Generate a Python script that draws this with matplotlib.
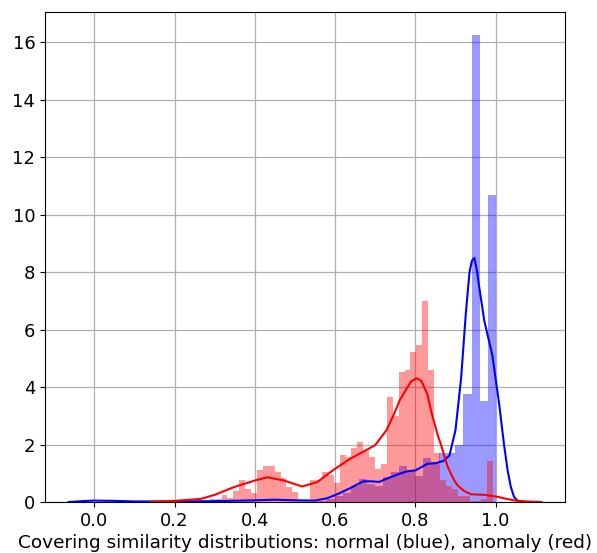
import numpy as np
import matplotlib
matplotlib.use("Agg")
import matplotlib.pyplot as plt

# histogram bins (density)
blue_start, blue_width = 0.0, 0.02
blue_heights = [0.0] * 28 + [
    0.05, 0.10, 0.20, 0.33, 0.57, 0.81, 0.63, 0.57, 0.86, 1.05,
    1.27, 1.10, 0.90, 1.52, 1.38, 1.70, 1.70, 1.97, 3.77, 16.25,
    3.50, 10.70,
]

red_start, red_width = 0.258, 0.01472
red_heights = [
    0.05, 0.05, 0.10, 0.10, 0.25, 0.15, 0.40, 0.75, 0.46, 0.30,
    1.12, 1.24, 1.24, 1.04, 0.84, 0.52, 0.34, 0.05, 0.05, 0.75,
    0.75, 1.04, 0.95, 0.66, 1.62, 1.56, 1.89, 2.10, 1.79, 1.56,
    1.16, 1.33, 3.65, 3.00, 4.52, 4.58, 5.24, 5.45, 6.99, 4.58,
    1.70, 0.75, 0.57, 0.44, 0.20, 0.20, 0.05, 0.05, 0.12, 1.42,
]

# kde curves, sampled by eye
blue_kde_x = [-0.064, -0.03, 0.0, 0.05, 0.1, 0.2, 0.3, 0.4, 0.45, 0.5,
              0.55, 0.58, 0.61, 0.64, 0.67, 0.69, 0.71, 0.73, 0.76, 0.78,
              0.80, 0.83, 0.85, 0.87, 0.885, 0.90, 0.914, 0.926, 0.935, 0.941,
              0.947, 0.953, 0.959, 0.972, 0.992, 1.009, 1.021, 1.03, 1.038, 1.046,
              1.054, 1.07, 1.114]
blue_kde_y = [0.0, 0.03, 0.05, 0.04, 0.02, 0.02, 0.03, 0.06, 0.08, 0.06,
              0.05, 0.13, 0.30, 0.50, 0.72, 0.72, 0.70, 0.82, 0.98, 1.07,
              1.10, 1.33, 1.35, 1.43, 1.62, 2.50, 4.30, 6.60, 8.00, 8.40,
              8.50, 8.10, 7.50, 6.30, 5.10, 3.40, 2.00, 1.10, 0.52, 0.18,
              0.05, 0.01, 0.0]

red_kde_x = [0.137, 0.2, 0.266, 0.3, 0.348, 0.4, 0.431, 0.472, 0.518, 0.555,
             0.596, 0.637, 0.67, 0.70, 0.728, 0.745, 0.761, 0.774, 0.79, 0.803,
             0.815, 0.83, 0.84, 0.856, 0.865, 0.873, 0.88, 0.889, 0.897, 0.906,
             0.922, 0.939, 0.972, 0.997, 1.009, 1.03, 1.05, 1.08, 1.114]
red_kde_y = [0.0, 0.04, 0.11, 0.25, 0.52, 0.75, 0.86, 0.75, 0.54, 0.69,
             1.12, 1.50, 1.75, 1.98, 2.50, 3.00, 3.54, 3.85, 4.20, 4.31,
             4.22, 3.75, 3.13, 2.32, 1.95, 1.56, 1.25, 0.98, 0.75, 0.57,
             0.38, 0.27, 0.25, 0.20, 0.17, 0.10, 0.05, 0.01, 0.0]

fig = plt.figure(figsize=(5.97, 5.53), dpi=100)
ax = fig.add_axes([0.0754, 0.0922, 0.871, 0.886])

blue_left = blue_start + blue_width * np.arange(len(blue_heights))
red_left = red_start + red_width * np.arange(len(red_heights))

ax.bar(blue_left, blue_heights, width=blue_width, align='edge',
       color='blue', alpha=0.4, linewidth=0)
ax.plot(blue_kde_x, blue_kde_y, color='blue', linewidth=1.5)
ax.bar(red_left, red_heights, width=red_width, align='edge',
       color='red', alpha=0.4, linewidth=0)
ax.plot(red_kde_x, red_kde_y, color='red', linewidth=1.5)

ax.set_xlim(-0.123, 1.173)
ax.set_ylim(0, 17.06)
ax.set_xticks([0.0, 0.2, 0.4, 0.6, 0.8, 1.0])
ax.set_yticks(range(0, 17, 2))
ax.tick_params(labelsize=13)
ax.grid(True, color='#b0b0b0', linewidth=0.9)
ax.set_axisbelow(True)
ax.set_xlabel('Covering similarity distributions: normal (blue), anomaly (red)',
              fontsize=13.3, labelpad=3)

fig.savefig('out.png', dpi=100)
